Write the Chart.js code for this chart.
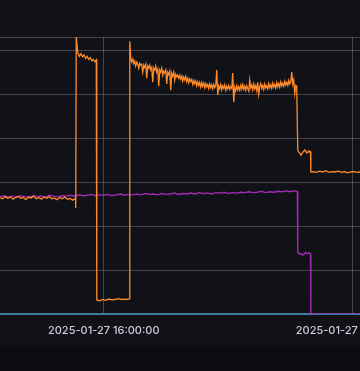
<!DOCTYPE html>
<html>
<head>
<meta charset="utf-8">
<script src="https://cdn.jsdelivr.net/npm/chart.js@4"></script>
<style>
  html, body { margin: 0; padding: 0; background: #111217; }
  #wrap { width: 360px; height: 345px; }
  #band { width: 360px; height: 26px; background: #0b0c10; }
</style>
</head>
<body>
<div id="wrap"><canvas id="myChart" width="360" height="345"></canvas></div>
<div id="band"></div>
<script>
// time in minutes relative to 2025-01-27 16:00:00
const xTicks = [0, 240];
const yTicks = [0, 10, 20, 30, 40, 50, 60, 63];

const orangeTimes = [
  -100, -97.5, -95, -92.5, -90, -87.5, -85, -82.5, -80, -77.5, -75, -72.5, -70, -67.5, -65, -62.5,
  -60, -57.5, -55, -52.5, -50, -47.5, -45, -42.5, -40, -37.5, -35, -32.5, -30, -28, -27.2,
  -27.0, -26.5, -25, -23.5, -22, -20.5, -19, -17.5, -16, -14.5, -13, -11.5, -10, -8.5, -7.2,
  -6.7, -4, -1, 2, 5, 8, 11, 14, 17, 20, 23, 24.8,
  25.1, 26.0, 27.0, 28.0, 28.9, 29.9, 30.8, 31.8, 32.8, 33.7, 34.7, 35.7, 36.6, 37.6, 38.6, 39.5,
  40.5, 41.4, 42.4, 43.4, 44.3, 45.3, 46.3, 47.2, 48.2, 49.2, 50.1, 51.1, 52.1, 53.0, 54.0, 54.9,
  55.9, 56.9, 57.8, 58.8, 59.8, 60.7, 61.7, 62.7, 63.6, 64.6, 65.5, 66.5, 67.5, 68.4, 69.4, 70.4,
  71.3, 72.3,
  73.3, 74.2, 75.2, 76.1, 77.1, 78.1, 79.0, 80.0, 81.0, 81.9, 82.9, 83.9, 84.8, 85.8, 86.8, 87.7,
  88.7, 89.6, 90.6, 91.6, 92.5, 93.5, 94.5, 95.4, 96.4, 97.4, 98.3, 99.3, 100.2, 101.2, 102.2, 103.1,
  104.1, 105.1, 106.0, 107.0, 108.0, 108.9, 109.9, 110.8, 111.8, 112.8, 113.7, 114.7, 115.7, 116.6,
  117.6, 118.6, 119.5, 120.5, 121.5, 122.4, 123.4, 124.3, 125.3, 126.3, 127.2, 128.2, 129.2, 130.1,
  131.1, 132.1, 133.0, 134.0, 134.9, 135.9, 136.9, 137.8, 138.8, 139.8, 140.7, 141.7, 142.7, 143.6,
  144.6, 145.5, 146.5, 147.5, 148.4, 149.4, 150.4, 151.3, 152.3, 153.3, 154.2, 155.2, 156.2, 157.1,
  158.1, 159.0, 160.0, 161.0, 161.9, 162.9, 163.9, 164.8, 165.8, 166.8, 167.7, 168.7, 169.6, 170.6,
  171.6, 172.5, 173.5, 174.5, 175.4, 176.4, 177.4, 178.3, 179.3, 180.3, 181.2, 182.2, 183.1, 184.1,
  185.1, 186.0,
  187.0, 188.0, 188.9, 190.0, 190.9, 191.8, 192.8, 193.8, 194.7, 195.7, 196.7, 197.6, 198.6, 199.3,
  199.6, 202, 205, 208, 211, 214, 217, 220, 223, 226, 229, 232, 235, 238, 241, 244, 247
];
const orangeValues = [
  26.5, 26.2, 26.7, 26.3, 26.6, 26.1, 26.5, 26.8, 26.3, 26.5, 26.0, 26.6, 26.4, 26.8, 26.2, 26.5,
  26.1, 26.6, 26.3, 26.7, 26.2, 26.4, 26.0, 26.5, 26.2, 26.6, 26.1, 26.3, 25.9, 26.2, 26.0,
  24.1, 63, 59.4, 58.6, 59.2, 58.5, 58.9, 58.1, 58.6, 57.9, 58.3, 57.6, 57.9, 57.4, 57.8,
  3.2, 3.0, 3.3, 3.1, 3.4, 3.2, 3.3, 3.5, 3.3, 3.4, 3.3, 3.5,
  62.0, 58.2, 57.3, 58.0, 57.0, 57.5, 56.4, 57.3, 56.8, 55.9, 57.0, 56.6, 56.8, 55.0, 56.6, 56.1,
  56.8, 53.6, 56.4, 55.9, 56.6, 55.5, 56.1, 52.7, 55.9, 55.5, 56.4, 55.0, 55.7, 51.8, 55.5, 55.0,
  55.9, 54.3, 55.2, 54.8, 55.5, 52.3, 55.0, 54.5, 55.2, 50.9, 54.8, 54.1, 55.0, 53.2, 54.5, 53.9,
  54.3, 53.6,
  54.3, 53.4, 54.1, 53.0, 53.9, 53.2, 54.0, 52.8, 53.6, 52.6, 53.5, 52.9, 53.3, 52.2, 53.1, 52.4,
  53.0, 51.9, 52.8, 52.0, 52.7, 51.6, 52.6, 51.8, 52.5, 51.4, 52.4, 51.7, 52.2, 51.3, 52.3, 51.5,
  52.1, 51.2, 52.2, 51.5, 52.0, 55.5, 49.8, 51.9, 51.2, 52.2, 51.0, 51.9,
  51.3, 52.1, 50.9, 51.8, 51.2, 52.0, 51.1, 51.7, 51.3, 54.8, 48.2, 51.6, 50.8, 51.9,
  51.0, 51.7, 50.9, 52.0, 51.2, 52.2, 51.1, 51.8, 50.9, 51.9, 51.3, 50.7, 53.2, 51.4,
  52.1, 51.0, 52.3, 51.2, 51.9, 50.8, 52.7, 50.0, 51.7, 52.4, 51.3, 52.0, 51.1, 52.3,
  51.4, 51.9, 51.2, 52.4, 51.5, 52.1, 51.3, 52.5, 51.6, 52.2, 51.4, 52.6, 51.7, 52.4,
  51.6, 52.8, 51.9, 52.5, 51.8, 52.9, 52.1, 52.7, 52.0, 53.1, 52.3, 52.8, 55.0, 52.3,
  53.2, 50.2, 52.0, 51.8,
  37.3, 36.8, 36.6, 36.1, 36.4, 36.8, 37.0, 37.3, 37.1, 36.6, 36.8, 37.1, 36.8, 36.9,
  32.3, 32.4, 32.2, 32.5, 32.3, 32.6, 32.2, 32.4, 32.3, 32.5, 32.2, 32.4, 32.1, 32.3, 32.4, 32.2, 32.3
];

const purpleTimes = [
  -100, -96, -92, -88, -84, -80, -76, -72, -68, -64, -60, -56, -52, -48, -44, -40, -36, -32, -28,
  -24, -20, -16, -12, -8, -4, 0, 4, 8, 12, 16, 20, 24, 28, 32, 36, 40, 44, 48, 52, 56, 60, 64, 68,
  72, 76, 80, 84, 88, 92, 96, 100, 104, 108, 112, 116, 120, 124, 128, 132, 136, 140, 144, 148,
  152, 156, 160, 164, 168, 172, 176, 180, 184, 186.6,
  187.0, 188.5, 190, 191.5, 193, 194.5, 196, 197.5, 199.3, 199.6, 247
];
const purpleValues = [
  26.7, 26.9, 26.6, 26.8, 26.5, 26.9, 26.7, 26.6, 26.9, 26.7, 26.8, 26.6, 27.0, 26.8, 26.7, 26.9, 26.8, 27.0, 26.8,
  27.1, 26.9, 27.0, 27.2, 26.9, 27.1, 27.0, 27.2, 26.9, 27.1, 27.3, 27.0, 27.2, 27.1, 27.3, 27.1, 27.4, 27.2, 27.3, 27.1, 27.4, 27.2, 27.3, 27.5,
  27.2, 27.4, 27.3, 27.5, 27.3, 27.6, 27.4, 27.5, 27.3, 27.6, 27.5, 27.7, 27.4, 27.6, 27.5, 27.7, 27.6, 27.8, 27.6, 27.7,
  27.9, 27.6, 27.8, 27.7, 27.9, 27.8, 28.0, 27.8, 28.0, 27.9,
  14.1, 13.6, 13.8, 13.4, 13.6, 14.0, 13.7, 13.9, 13.7, 0, 0
];

const blueTimes = [-100, 247];
const blueValues = [0, 0];

function pairs(ts, vs) {
  return ts.map((t, i) => ({ x: t, y: vs[i] }));
}

function pad(n) {
  return String(n).padStart(2, "0");
}

const gridColor = "rgba(204, 204, 220, 0.28)";

const ctx = document.getElementById("myChart").getContext("2d");
const chart = new Chart(ctx, {
  type: "line",
  data: {
    datasets: [
      {
        label: "orange",
        data: pairs(orangeTimes, orangeValues),
        borderColor: "#ff8a2b",
        borderWidth: 1.3,
        pointRadius: 0,
      },
      {
        label: "purple",
        data: pairs(purpleTimes, purpleValues),
        borderColor: "#a12ab4",
        borderWidth: 1.4,
        pointRadius: 0,
      },
      {
        label: "blue",
        data: pairs(blueTimes, blueValues),
        borderColor: "#3f7c9c",
        borderWidth: 2.2,
        pointRadius: 0,
        clip: false,
      },
    ],
  },
  options: {
    responsive: false,
    animation: false,
    layout: { padding: { top: 37, left: 0, right: 0, bottom: 0 } },
    plugins: { legend: { display: false }, tooltip: { enabled: false } },
    scales: {
      x: {
        type: "linear",
        min: -100,
        max: 247,
        border: { display: false },
        grid: { color: gridColor, drawTicks: false },
        afterBuildTicks: (scale) => {
          scale.ticks = xTicks.map((v) => ({ value: v }));
        },
        afterFit: (scale) => {
          scale.height = 31;
          scale.paddingLeft = 0;
          scale.paddingRight = 0;
        },
        ticks: {
          autoSkip: false,
          maxRotation: 0,
          padding: 10,
          color: "#ccccdc",
          font: { family: "Inter", size: 11, weight: "500" },
          callback: (value) => {
            const total = 16 * 60 + value;
            return "2025-01-27 " + pad(Math.floor(total / 60)) + ":" + pad(total % 60) + ":00";
          },
        },
      },
      y: {
        min: 0,
        max: 63,
        border: { display: false },
        grid: { color: gridColor, drawTicks: false },
        afterBuildTicks: (scale) => {
          scale.ticks = yTicks.map((v) => ({ value: v }));
        },
        afterFit: (scale) => {
          scale.width = 0;
        },
        ticks: { display: false },
      },
    },
  },
});
</script>
</body>
</html>
